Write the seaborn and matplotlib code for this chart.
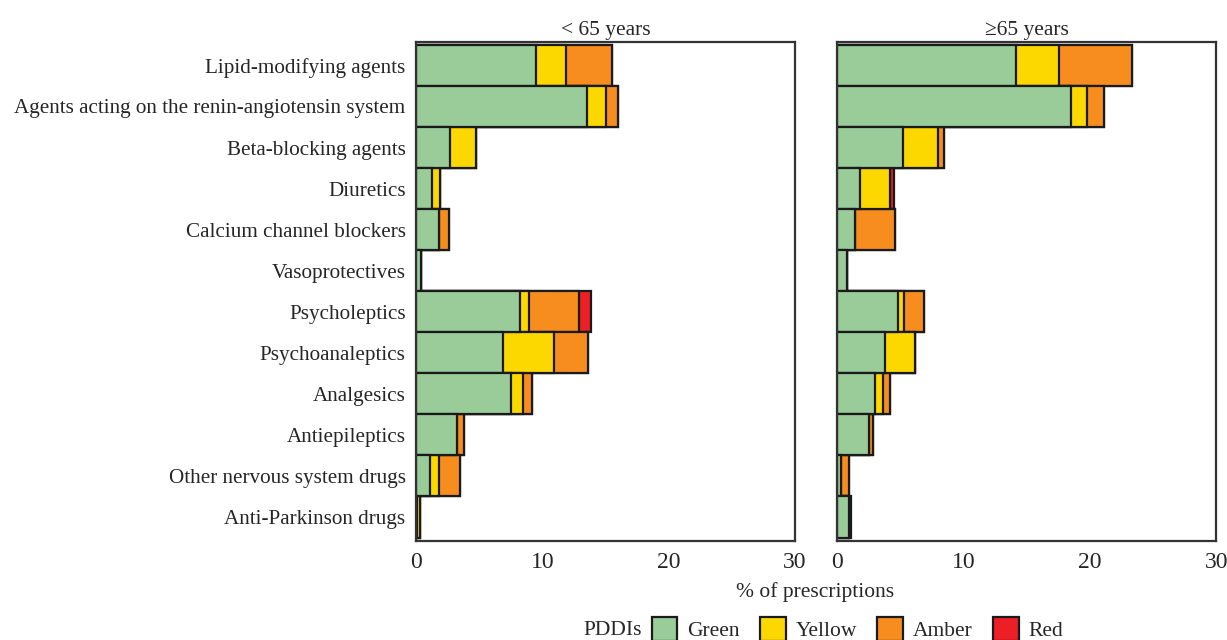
import numpy as np
import pandas as pd
import matplotlib
matplotlib.use('Agg')
import matplotlib.pyplot as plt
from matplotlib.patches import Patch
import seaborn as sns

# カテゴリ（ATC薬効分類）
categories = [
    'Lipid-modifying agents',
    'Agents acting on the renin-angiotensin system',
    'Beta-blocking agents',
    'Diuretics',
    'Calcium channel blockers',
    'Vasoprotectives',
    'Psycholeptics',
    'Psychoanaleptics',
    'Analgesics',
    'Antiepileptics',
    'Other nervous system drugs',
    'Anti-Parkinson drugs',
]

# <65歳 (% of prescriptions)
young_green = [9.5, 13.55, 2.7, 1.3, 1.85, 0.4, 8.25, 6.9, 7.55, 3.25, 1.15, 0.05]
young_yellow = [2.4, 1.5, 2.05, 0.6, 0.0, 0.0, 0.7, 4.0, 0.9, 0.0, 0.65, 0.25]
young_amber = [3.65, 0.95, 0.0, 0.0, 0.75, 0.0, 3.95, 2.7, 0.75, 0.55, 1.7, 0.0]
young_red = [0.0, 0.0, 0.0, 0.0, 0.0, 0.0, 0.95, 0.0, 0.0, 0.0, 0.0, 0.0]

# ≥65歳
old_green = [14.15, 18.55, 5.2, 1.85, 1.4, 0.8, 4.8, 3.8, 3.0, 2.5, 0.35, 0.95]
old_yellow = [3.45, 1.25, 2.8, 2.3, 0.0, 0.0, 0.5, 2.4, 0.65, 0.0, 0.0, 0.0]
old_amber = [5.75, 1.3, 0.45, 0.0, 3.15, 0.0, 1.55, 0.0, 0.55, 0.35, 0.6, 0.0]
old_red = [0.0, 0.0, 0.0, 0.35, 0.0, 0.0, 0.0, 0.0, 0.0, 0.0, 0.0, 0.15]

panel_titles = ['< 65 years', '≥65 years']
level_names = ['Green', 'Yellow', 'Amber', 'Red']
level_colors = ['#99cc99', '#fdd800', '#f78d1f', '#ec1f26']

sns.set_style('white')
plt.rcParams['font.family'] = ['Liberation Serif', 'DejaVu Serif']
plt.rcParams['font.size'] = 15

fig = plt.figure(figsize=(12.27, 6.4), dpi=100)
ax1 = fig.add_axes([0.339, 0.155, 0.309, 0.780])
ax2 = fig.add_axes([0.6822, 0.155, 0.309, 0.780])

panels = [
    (ax1, [young_green, young_yellow, young_amber, young_red]),
    (ax2, [old_green, old_yellow, old_amber, old_red]),
]

for i, (ax, series) in enumerate(panels):
    df = pd.DataFrame(dict(zip(level_names, series)), index=categories)
    cum = df.cumsum(axis=1)
    # 積み上げ棒: 合計から順に重ねて描く
    for name, color in reversed(list(zip(level_names, level_colors))):
        sns.barplot(x=cum[name].values, y=categories, ax=ax, color=color,
                    width=1.0, edgecolor='#1a1a1a', linewidth=1.6,
                    orient='h', saturation=1)
    ax.set_xlim(0, 30)
    ax.set_ylim(len(categories) - 0.42, -0.58)
    ax.set_xticks([0, 10, 20, 30])
    ax.set_title(panel_titles[i], fontsize=15.5, pad=5)
    ax.set_xlabel('')
    ax.set_ylabel('')
    ax.tick_params(axis='x', direction='out', length=5, width=1.2, labelsize=17, color='#333333', pad=3)
    ax.tick_params(axis='y', direction='out', length=4, width=1.2, labelsize=15.2, color='#333333')
    for sp in ax.spines.values():
        sp.set_visible(True)
        sp.set_color('#333333')
        sp.set_linewidth(1.6)
    if i == 1:
        ax.set_yticklabels([])
        ax.tick_params(axis='y', length=0)

fig.text(0.664, 0.075, '% of prescriptions', ha='center', va='center', fontsize=15.5)

handles = [Patch(facecolor=c, edgecolor='#1a1a1a', linewidth=1.6) for c in level_colors]
fig.text(0.4995, 0.015, 'PDDIs', ha='center', va='center', fontsize=15.5)
fig.legend(handles, level_names, loc='center left', bbox_to_anchor=(0.531, 0.017),
           ncol=4, frameon=False, fontsize=15.5, handlelength=1.2, handleheight=1.3,
           handletextpad=0.45, columnspacing=0.95, borderaxespad=0, borderpad=0)

fig.savefig('out.png', dpi=100)
